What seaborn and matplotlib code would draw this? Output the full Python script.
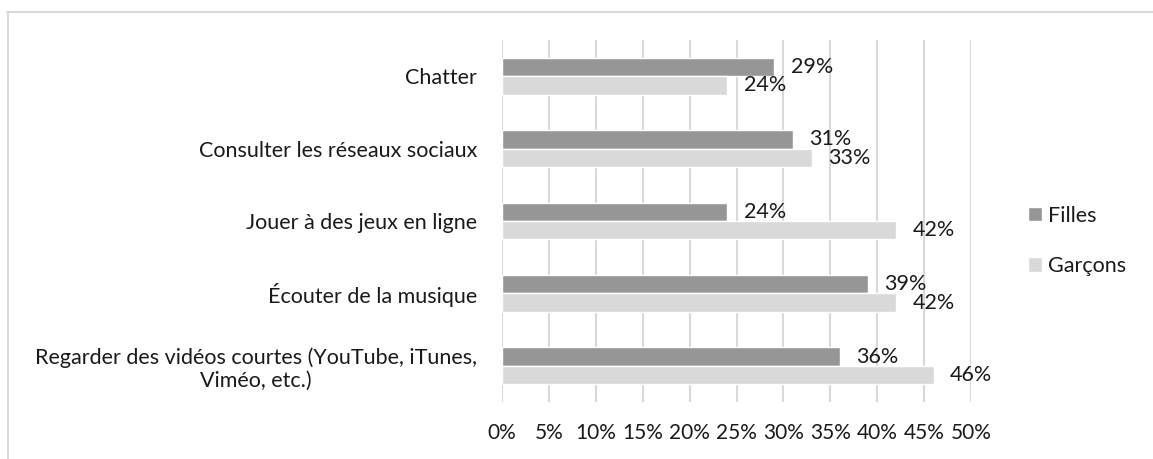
import seaborn as sns
import matplotlib.pyplot as plt
import matplotlib.lines as mlines
import pandas as pd

activites = [
    "Chatter",
    "Consulter les réseaux sociaux",
    "Jouer à des jeux en ligne",
    "Écouter de la musique",
    "Regarder des vidéos courtes (YouTube, iTunes,\nViméo, etc.)",
]
filles = [29, 31, 24, 39, 36]
garcons = [24, 33, 42, 42, 46]
groupes = ["Filles", "Garçons"]
couleurs = ["#969696", "#d9d9d9"]
graduations = [0, 5, 10, 15, 20, 25, 30, 35, 40, 45, 50]


def main():
    df = pd.DataFrame({
        "Activite": activites * 2,
        "Pourcentage": filles + garcons,
        "Groupe": ["Filles"] * len(filles) + ["Garçons"] * len(garcons),
    })

    sns.set_style("white")
    plt.rcParams["font.family"] = ["Lato", "DejaVu Sans"]
    fs = 15.5

    fig = plt.figure(figsize=(11.53, 4.59), dpi=100)
    ax = fig.add_axes([0.4354, 0.1242, 0.4068, 0.7887])

    sns.barplot(data=df, y="Activite", x="Pourcentage", hue="Groupe",
                hue_order=groupes, palette=couleurs, orient="h",
                width=0.51, gap=0, saturation=1, ax=ax, legend=True)

    for cont in ax.containers:
        ax.bar_label(cont, labels=[f"{v:.0f}%" for v in cont.datavalues],
                     padding=12, fontsize=fs, color="#1a1a1a")

    ax.set_xlim(0, 50)
    ax.set_xticks(graduations)
    ax.set_xticklabels([f"{g}%" for g in graduations], fontsize=15, color="#1a1a1a")
    ax.tick_params(axis="both", length=0)
    ax.tick_params(axis="y", pad=18, labelsize=fs, labelcolor="#1a1a1a")
    ax.tick_params(axis="x", pad=15)
    for lab in ax.get_yticklabels():
        lab.set_multialignment("center")
    ax.set_xlabel("")
    ax.set_ylabel("")
    ax.grid(axis="x", color="#d9d9d9", linewidth=1.5)
    ax.set_axisbelow(True)
    for s in ax.spines.values():
        s.set_visible(False)

    leg = ax.legend(loc="center left", bbox_to_anchor=(1.08, 0.445), frameon=False,
                    fontsize=fs, handlelength=0.65, handleheight=0.65,
                    handletextpad=0.3, labelspacing=1.4)
    for t in leg.get_texts():
        t.set_color("#1a1a1a")

    # cadre du graphique (haut et gauche)
    fig.add_artist(mlines.Line2D([7 / 1153, 1], [1 - 11.5 / 459, 1 - 11.5 / 459],
                                 transform=fig.transFigure, color="#d9d9d9", linewidth=1.5))
    fig.add_artist(mlines.Line2D([7.5 / 1153, 7.5 / 1153], [0, 1 - 11.5 / 459],
                                 transform=fig.transFigure, color="#d9d9d9", linewidth=1.5))

    fig.savefig("out.png", dpi=100)


main()
